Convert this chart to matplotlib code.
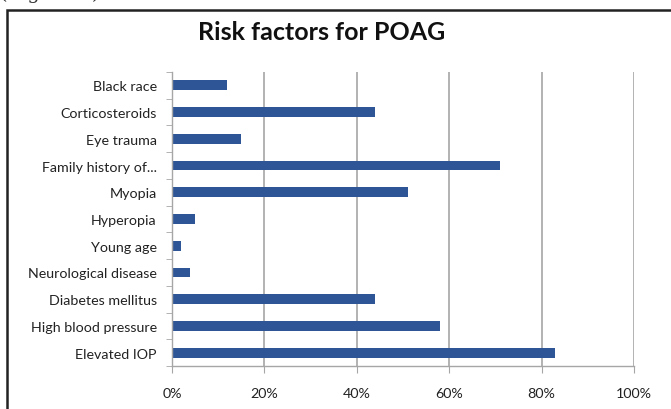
import numpy as np
import matplotlib
matplotlib.use('Agg')
from matplotlib import pyplot
from matplotlib.patches import Rectangle
from matplotlib.ticker import PercentFormatter, FixedLocator

# categories from bottom to top (as barh draws them)
factors = ['Elevated IOP', 'High blood pressure', 'Diabetes mellitus',
           'Neurological disease', 'Young age', 'Hyperopia', 'Myopia',
           'Family history of...', 'Eye trauma', 'Corticosteroids',
           'Black race']
shares = [83, 58, 44, 4, 2, 5, 51, 71, 15, 44, 12]
x_ticks = [0, 20, 40, 60, 80, 100]

pyplot.rcParams['font.family'] = ['Lato', 'DejaVu Sans']

fig = pyplot.figure(figsize=(6.71, 4.10), dpi=100)

# outer frame of the chart (cut off on the right and bottom)
fig.patches.append(Rectangle((7 / 671, -0.1), 1.2, (410 - 11) / 410 + 0.1,
                             transform=fig.transFigure, fill=False,
                             edgecolor='#222222', linewidth=1.8))

# remains of the text line above the chart, cut by the crop
fig.text(0.0, 1.0 + 6 / 410, '(Figure 1)', fontsize=14, family='DejaVu Serif',
         va='center', ha='left', color='#333333')

ax = fig.add_axes([172 / 671, (410 - 367) / 410, (634 - 172) / 671,
                   (367 - 73) / 410])

y = np.arange(len(factors))
ax.barh(y, shares, height=0.37, color='#2E5596')

ax.set_xlim(0, 100)
ax.set_ylim(-0.5, len(factors) - 0.5)
ax.xaxis.set_major_locator(FixedLocator(x_ticks))
ax.xaxis.set_major_formatter(PercentFormatter(decimals=0))
ax.set_yticks(y)
ax.set_yticklabels(factors)
ax.yaxis.set_minor_locator(FixedLocator(np.arange(-0.5, len(factors), 1)))

ax.grid(axis='x', color='#A6A6A6', linewidth=1.2)
ax.set_axisbelow(True)
for side in ['top', 'right']:
    ax.spines[side].set_visible(False)
for side in ['left', 'bottom']:
    ax.spines[side].set_color('#A6A6A6')
    ax.spines[side].set_linewidth(1.0)

ax.tick_params(axis='y', which='major', length=0, pad=11, labelsize=10.3,
               labelcolor='#222222')
ax.tick_params(axis='y', which='minor', length=4, color='#A6A6A6')
ax.tick_params(axis='x', which='major', length=5, color='#A6A6A6', pad=10,
               labelsize=10.3, labelcolor='#222222')

fig.text(322 / 671, (410 - 32) / 410, 'Risk factors for POAG', fontsize=18,
         fontweight='bold', ha='center', va='center', color='#111111')

fig.savefig('out.png', dpi=100)
